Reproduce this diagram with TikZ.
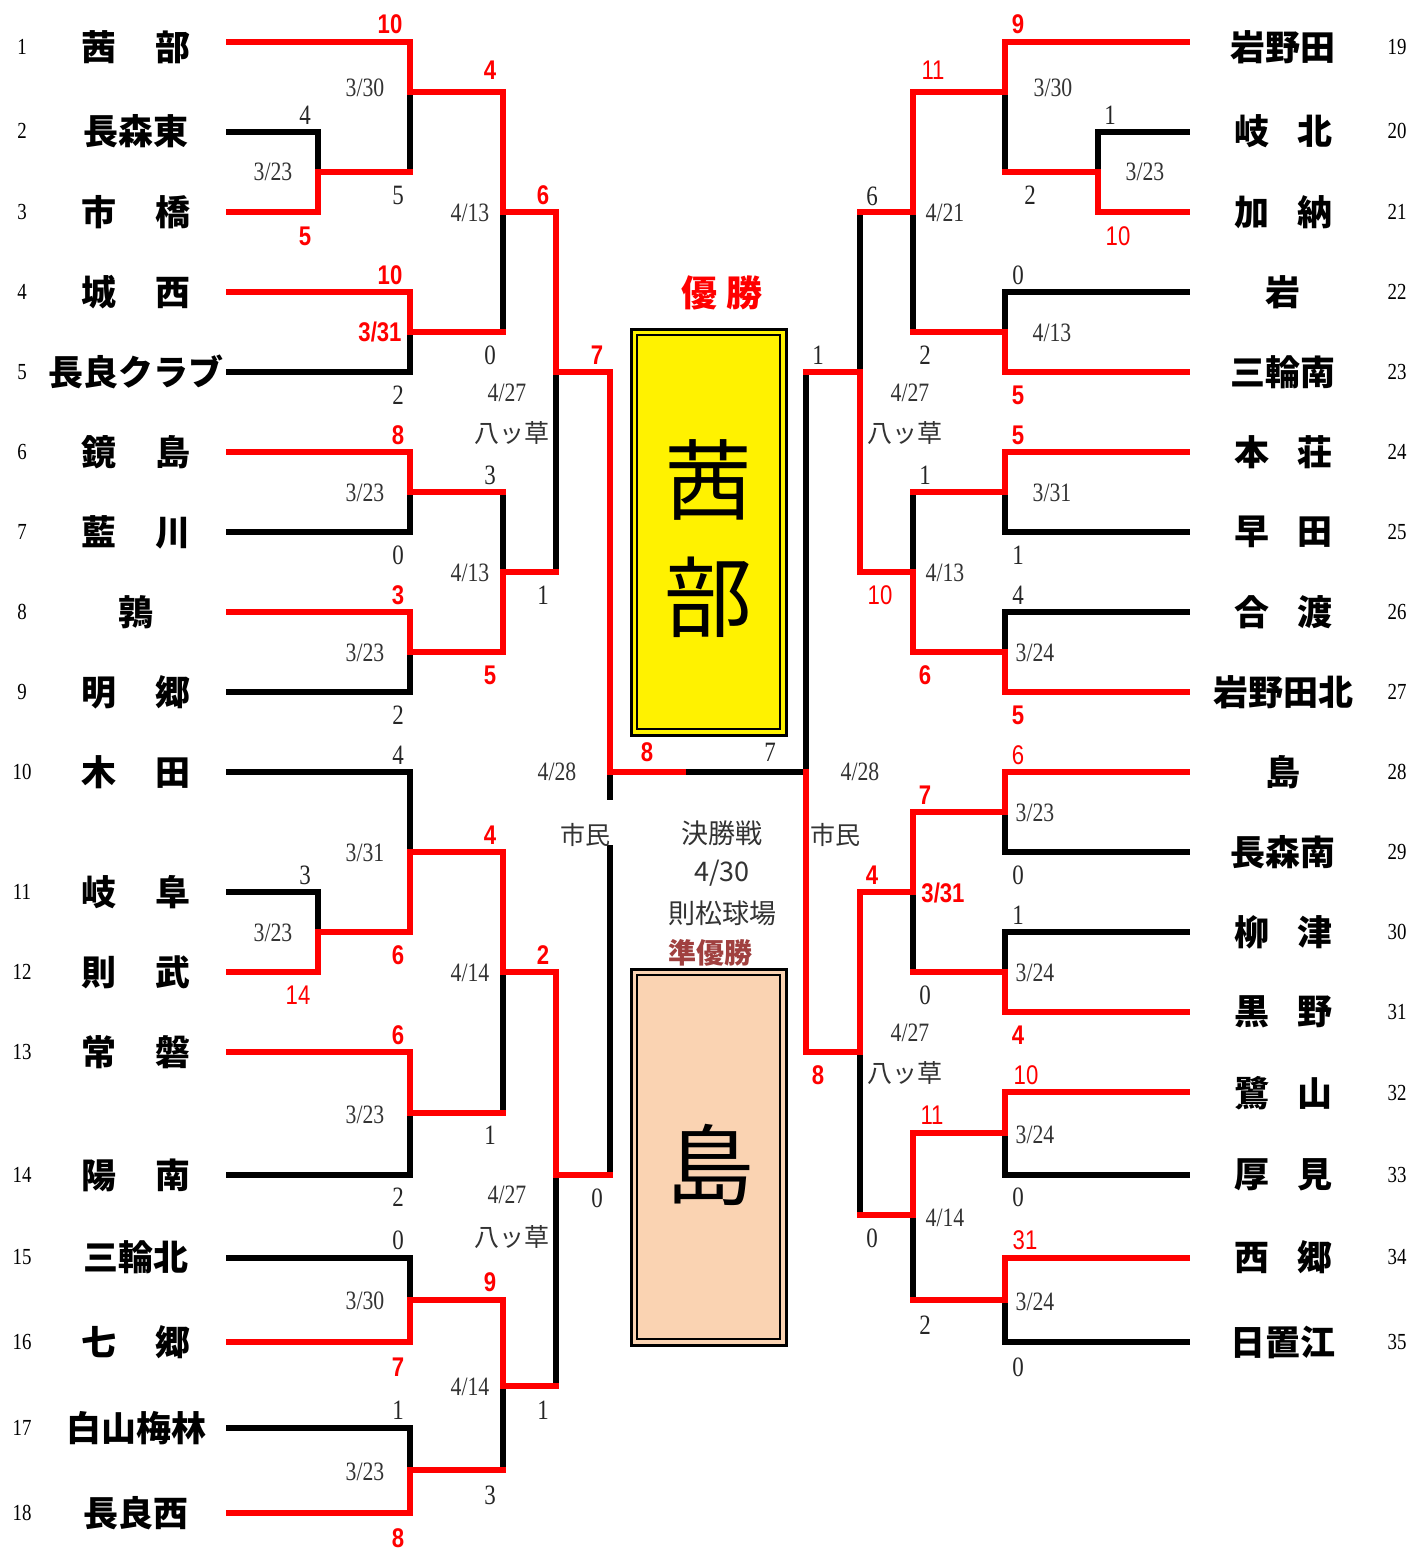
\documentclass[tikz,border=0pt]{standalone}
\usepackage{fontspec}
\setmainfont{Liberation Serif}
\newfontfamily\jp{Noto Sans CJK JP}
\newfontfamily\serc[FakeStretch=0.82]{Liberation Serif}
\newfontfamily\sanc[FakeStretch=0.82]{Liberation Sans}
\definecolor{peach}{HTML}{FAD3B2}
\definecolor{jun}{HTML}{A0403F}
\newcommand\twl[2]{#1\hspace{40pt}#2}
\newcommand\twr[2]{#1\hspace{28pt}#2}
\tikzset{
 L/.style={line width=6pt, black, line cap=rect},
 W/.style={line width=6pt, red, line cap=rect},
 dt/.style={inner sep=0pt, font=\serc\fontsize{26.5}{26.5}\selectfont, text=black!80},
 sc/.style={inner sep=0pt, font=\serc\fontsize{28}{28}\selectfont, text=black!85},
 rb/.style={inner sep=0pt, text=red, font=\sanc\bfseries\fontsize{27}{27}\selectfont},
 rr/.style={inner sep=0pt, text=red, font=\sanc\fontsize{27}{27}\selectfont},
 nm/.style={inner sep=0pt, font=\jp\bfseries\fontsize{35}{35}\selectfont},
 ix/.style={inner sep=0pt, font=\serc\fontsize{23}{23}\selectfont},
 jl/.style={inner sep=0pt, font=\jp\fontsize{25}{25}\selectfont, text=black!80},
 big/.style={inner sep=0pt, font=\jp\fontsize{88}{88}\selectfont},
}
\begin{document}
\begin{tikzpicture}[x=1pt,y=-1pt]
\fill[white] (0,0) rectangle (1411,1550);
\useasboundingbox (0,0) rectangle (1411,1550);
% black (losing) segments
\foreach \a/\b/\c/\d in {
229/132/318/132, 229/372/410/372, 229/532/410/532, 229/692/410/692,
229/772/410/772, 229/892/318/892, 229/1175/410/1175, 229/1258/410/1258,
229/1428/410/1428,
318/132/318/172, 410/92/410/172, 410/332/410/372, 410/492/410/532,
410/652/410/692, 318/892/318/932, 410/772/410/852, 410/1113/410/1175,
410/1258/410/1300, 410/1428/410/1470,
503/212/503/332, 503/492/503/572, 503/972/503/1113, 503/1386/503/1470,
556/372/556/572, 556/1175/556/1386,
610/772/610/797, 610/848/610/1175,
683/772/806/772, 806/372/806/772,
1098/132/1187/132, 1005/292/1187/292, 1005/532/1187/532, 1005/612/1187/612,
1005/852/1187/852, 1005/932/1187/932, 1005/1175/1187/1175, 1005/1342/1187/1342,
1098/132/1098/172, 1005/92/1005/172, 1005/292/1005/332, 1005/492/1005/532,
1005/612/1005/652, 1005/812/1005/852, 1005/932/1005/972, 1005/1133/1005/1175,
1005/1300/1005/1342,
913/212/913/332, 913/492/913/572, 913/892/913/972, 913/1215/913/1300,
860/212/860/372, 860/1052/860/1215}
 \draw[L] (\a,\b) -- (\c,\d);
% red (winning) segments
\foreach \a/\b/\c/\d in {
229/42/410/42, 229/212/318/212, 229/292/410/292, 229/452/410/452,
229/612/410/612, 229/972/318/972, 229/1052/410/1052, 229/1342/410/1342,
229/1513/410/1513,
318/172/318/212, 318/172/410/172,
410/42/410/92, 410/92/503/92,
410/292/410/332, 410/332/503/332,
410/452/410/492, 410/492/503/492,
410/612/410/652, 410/652/503/652,
318/932/318/972, 318/932/410/932,
410/852/410/932, 410/852/503/852,
410/1052/410/1113, 410/1113/503/1113,
410/1300/410/1342, 410/1300/503/1300,
410/1470/410/1513, 410/1470/503/1470,
503/92/503/212, 503/212/556/212,
503/572/503/652, 503/572/556/572,
503/852/503/972, 503/972/556/972,
503/1300/503/1386, 503/1386/556/1386,
556/212/556/372, 556/372/610/372,
556/972/556/1175, 556/1175/610/1175,
610/372/610/772, 610/772/683/772,
806/772/806/1052,
1005/42/1187/42, 1098/212/1187/212, 1005/372/1187/372, 1005/452/1187/452,
1005/692/1187/692, 1005/772/1187/772, 1005/1012/1187/1012, 1005/1092/1187/1092,
1005/1258/1187/1258,
1098/172/1098/212, 1005/172/1098/172,
1005/42/1005/92, 913/92/1005/92,
1005/332/1005/372, 913/332/1005/332,
1005/452/1005/492, 913/492/1005/492,
1005/652/1005/692, 913/652/1005/652,
1005/772/1005/812, 913/812/1005/812,
1005/972/1005/1012, 913/972/1005/972,
1005/1092/1005/1133, 913/1133/1005/1133,
1005/1258/1005/1300, 913/1300/1005/1300,
913/92/913/212, 860/212/913/212,
913/572/913/652, 860/572/913/572,
913/812/913/892, 860/892/913/892,
913/1133/913/1215, 860/1215/913/1215,
860/372/860/572, 806/372/860/372,
860/892/860/1052, 806/1052/860/1052}
 \draw[W] (\a,\b) -- (\c,\d);
% winner box
\fill[yellow] (631,329) rectangle (786,735);
\draw[line width=3pt] (631,329) rectangle (786,735);
\draw[line width=2pt] (637,335) rectangle (780,729);
\node[big] (w1) at (708,480) {茜};
\node[big] (w2) at (708,597) {部};
\node[inner sep=0pt, text=red, font=\jp\bfseries\fontsize{36}{36}\selectfont] (yu) at (722,293) {優\hspace{10pt}勝};
% runner-up box
\fill[peach] (631,969) rectangle (786,1345);
\draw[line width=3pt] (631,969) rectangle (786,1345);
\draw[line width=2pt] (637,975) rectangle (780,1339);
\node[big] (r1) at (710,1165) {島};
\node[inner sep=0pt, text=jun, font=\jp\bfseries\fontsize{28}{28}\selectfont] (jy) at (710,953) {準優勝};
\node[jl, font=\jp\fontsize{27}{27}\selectfont] (f1) at (722,833) {決勝戦};
\node[jl, font=\jp\fontsize{27}{27}\selectfont] (f2) at (722,873) {4/30};
\node[jl, font=\jp\fontsize{27}{27}\selectfont] (f3) at (722,913) {則松球場};
% small japanese labels
\foreach \x/\y/\t [count=\i] in {512/433/八ッ草, 512/1237/八ッ草, 905/433/八ッ草, 905/1073/八ッ草, 585/835/市民, 835/835/市民}
 \node[jl] (j\i) at (\x,\y) {\t};
% dates
\foreach \x/\y/\t [count=\i] in {
365/88/3\slash30, 273/172/3\slash23, 470/213/4\slash13, 507/393/4\slash27,
365/493/3\slash23, 470/573/4\slash13, 365/653/3\slash23, 557/772/4\slash28,
365/853/3\slash31, 273/933/3\slash23, 470/973/4\slash14, 365/1115/3\slash23,
507/1195/4\slash27, 365/1301/3\slash30, 470/1387/4\slash14, 365/1472/3\slash23,
1053/88/3\slash30, 1145/172/3\slash23, 945/213/4\slash21, 1052/333/4\slash13,
910/393/4\slash27, 1052/493/3\slash31, 945/573/4\slash13, 1035/653/3\slash24,
860/772/4\slash28, 1035/813/3\slash23, 1035/973/3\slash24, 910/1033/4\slash27,
1035/1135/3\slash24, 945/1218/4\slash14, 1035/1302/3\slash24}
 \node[dt] (d\i) at (\x,\y) {\t};
% black scores
\foreach \x/\y/\t [count=\i] in {
305/115/4, 398/195/5, 490/355/0, 398/395/2, 490/475/3, 398/555/0, 543/595/1,
398/715/2, 398/755/4, 305/875/3, 490/1135/1, 398/1197/2, 597/1198/0, 398/1240/0,
543/1410/1, 398/1410/1, 490/1495/3, 770/752/7,
1110/115/1, 1030/195/2, 872/196/6, 1018/275/0, 925/355/2, 818/355/1, 925/475/1,
1018/555/1, 1018/595/4, 1018/875/0, 1018/915/1, 925/995/0, 1018/1197/0,
872/1238/0, 925/1325/2, 1018/1367/0}
 \node[sc] (s\i) at (\x,\y) {\t};
% red bold scores
\foreach \x/\y/\t [count=\i] in {
390/24/10, 305/236/5, 490/70/4, 543/195/6, 390/275/10, 380/332/3\slash31,
597/355/7, 398/435/8, 398/595/3, 490/675/5, 490/835/4, 398/955/6, 543/955/2,
398/1035/6, 490/1282/9, 398/1367/7, 398/1538/8, 647/752/8,
1018/24/9, 1018/395/5, 1018/435/5, 925/675/6, 1018/715/5, 925/795/7, 872/875/4,
943/893/3\slash31, 1018/1035/4, 818/1075/8}
 \node[rb] (b\i) at (\x,\y) {\t};
% red regular scores
\foreach \x/\y/\t [count=\i] in {
298/995/14, 933/70/11, 1118/236/10, 880/595/10, 1018/755/6, 1026/1075/10,
932/1115/11, 1025/1240/31}
 \node[rr] (rr\i) at (\x,\y) {\t};
% left team names
\foreach \y/\t [count=\i] in {
47/{\twl{茜}{部}}, 131/長森東, 212/{\twl{市}{橋}}, 292/{\twl{城}{西}},
372/長良クラブ, 452/{\twl{鏡}{島}}, 532/{\twl{藍}{川}}, 612/鶉,
692/{\twl{明}{郷}}, 772/{\twl{木}{田}}, 892/{\twl{岐}{阜}}, 972/{\twl{則}{武}},
1052/{\twl{常}{磐}}, 1175/{\twl{陽}{南}}, 1257/三輪北, 1342/{\twl{七}{郷}},
1428/白山梅林, 1513/長良西}
 {\node[nm] (tl\i) at (136,\y) {\t};
  \node[ix] (il\i) at (22,\y) {\i};}
% right team names
\foreach \y/\t [count=\i from 19] in {
47/岩野田, 131/{\twr{岐}{北}}, 212/{\twr{加}{納}}, 292/岩, 372/三輪南,
452/{\twr{本}{荘}}, 532/{\twr{早}{田}}, 612/{\twr{合}{渡}}, 692/岩野田北,
772/島, 852/長森南, 932/{\twr{柳}{津}}, 1012/{\twr{黒}{野}},
1093/{\twr{鷺}{山}}, 1175/{\twr{厚}{見}}, 1257/{\twr{西}{郷}}, 1342/日置江}
 {\node[nm] (tr\i) at (1283,\y) {\t};
  \node[ix] (ir\i) at (1397,\y) {\i};}
\end{tikzpicture}
\end{document}
